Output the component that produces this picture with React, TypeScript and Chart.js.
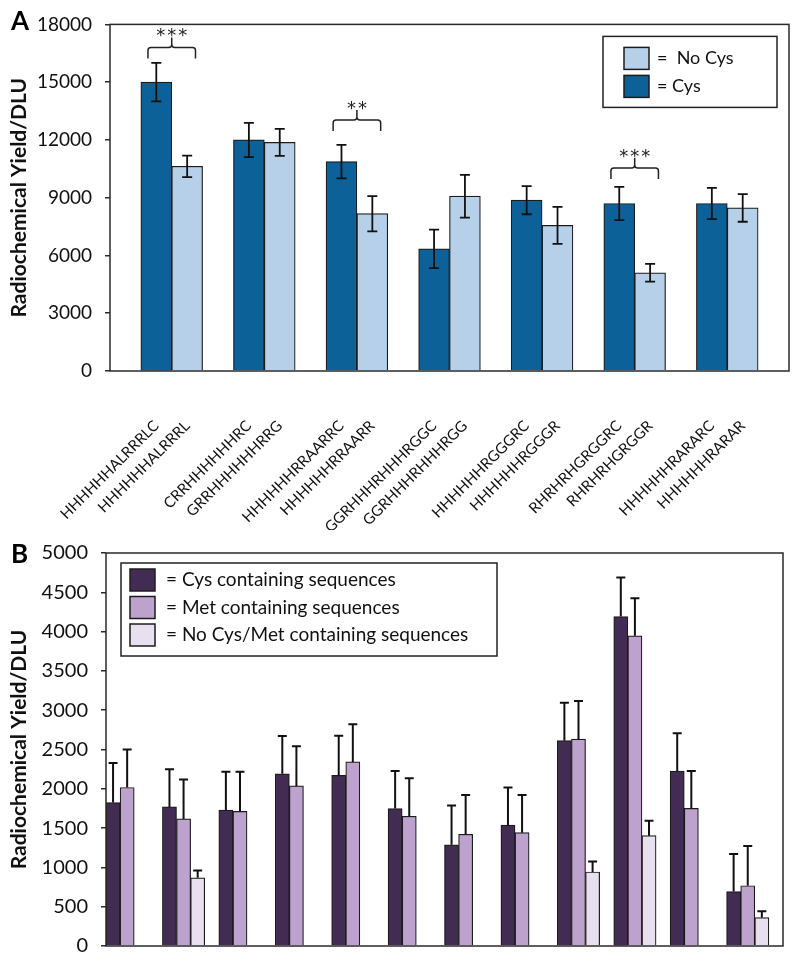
import React, { useEffect, useRef } from 'react';
import { Chart, registerables } from 'chart.js';

Chart.register(...registerables);

const FONT = 'Lato, "Open Sans", "DejaVu Sans", sans-serif';

// ---------- Panel A data ----------
const cysLabelsA = ['HHHHHHALRRRLC', 'CRRHHHHHHRC', 'HHHHHHRRAARRC', 'GGRHHHRHHHRGGC', 'HHHHHHRGGGRC', 'RHRHRHGRGGRC', 'HHHHHHRARARC'];
const noCysLabelsA = ['HHHHHHALRRRL', 'GRRHHHHHHRRG', 'HHHHHHRRAARR', 'GGRHHHRHHHRGG', 'HHHHHHRGGGR', 'RHRHRHGRGGR', 'HHHHHHRARAR'];
const cysValuesA = [15000, 12000, 10870, 6340, 8870, 8700, 8700];
const cysErrorsA = [1000, 890, 870, 1000, 730, 860, 815];
const noCysValuesA = [10630, 11870, 8170, 9080, 7560, 5100, 8470];
const noCysErrorsA = [560, 700, 915, 1110, 960, 460, 720];
const sigPairsA = [0, 2, 5];
const sigMarksA = ['***', '**', '***'];
const sigLevelsA = [16230, 12460, 9970];
const yMaxA = 18000;
const yStepA = 3000;

// ---------- Panel B data ----------
const cysValuesB = [1825, 1770, 1730, 2190, 2170, 1748, 1288, 1537, 2612, 4192, 2225, 692];
const cysErrorsB = [504, 480, 488, 483, 504, 478, 500, 480, 484, 496, 483, 479];
const metValuesB = [2017, 1617, 1712, 2037, 2342, 1650, 1421, 1442, 2633, 3946, 1750, 767];
const metErrorsB = [483, 500, 505, 505, 479, 483, 500, 479, 484, 479, 475, 504];
const noneValuesB = [null, 867, null, null, null, null, null, null, 942, 1404, null, 362];
const noneErrorsB = [null, 95, null, null, null, null, null, null, 133, 188, null, 80];
const yMaxB = 5000;
const yStepB = 500;

const C_CYS_A = '#0b6198';
const C_NOCYS_A = '#b5d0e8';
const C_CYS_B = '#432c53';
const C_MET_B = '#bca2cc';
const C_NONE_B = '#e8e0ee';
const EDGE = '#1c1c1c';

// Build slot tables (gap, Cys, NoCys, gap, ...)
const slotLabelsA: string[] = [''];
const slotValuesA: (number | null)[] = [null];
const slotErrorsA: (number | null)[] = [null];
const slotColorsA: string[] = ['#fff'];
cysValuesA.forEach((v, i) => {
  slotLabelsA.push(cysLabelsA[i], noCysLabelsA[i], '');
  slotValuesA.push(v, noCysValuesA[i], null);
  slotErrorsA.push(cysErrorsA[i], noCysErrorsA[i], null);
  slotColorsA.push(C_CYS_A, C_NOCYS_A, '#fff');
});

const slotLabelsB: string[] = [];
const slotValuesB: (number | null)[] = [];
const slotErrorsB: (number | null)[] = [];
const slotColorsB: string[] = [];
cysValuesB.forEach((v, i) => {
  slotLabelsB.push('', '', '', '');
  slotValuesB.push(v, metValuesB[i], noneValuesB[i], null);
  slotErrorsB.push(cysErrorsB[i], metErrorsB[i], noneErrorsB[i], null);
  slotColorsB.push(C_CYS_B, C_MET_B, C_NONE_B, '#fff');
});

// ---------- Plugins ----------
const framePlugin = {
  id: 'frame',
  afterDatasetsDraw(chart: any) {
    const { ctx, chartArea: a } = chart;
    ctx.save();
    ctx.strokeStyle = '#2a2a2a';
    ctx.lineWidth = 1.5;
    ctx.strokeRect(a.left, a.top, a.right - a.left, a.bottom - a.top);
    ctx.restore();
  },
};

const errorBarPlugin = {
  id: 'errorBars',
  afterDatasetsDraw(chart: any, _args: any, opts: any) {
    const { ctx } = chart;
    const meta = chart.getDatasetMeta(0);
    const ys = chart.scales.y;
    const data = chart.data.datasets[0].data;
    ctx.save();
    ctx.strokeStyle = '#111';
    ctx.lineWidth = opts.lineWidth || 1.8;
    meta.data.forEach((bar: any, i: number) => {
      const v = data[i];
      const e = opts.errors[i];
      if (v == null || e == null) return;
      const x = bar.x;
      const yt = ys.getPixelForValue(v + e);
      const yb = opts.twoSided ? ys.getPixelForValue(v - e) : ys.getPixelForValue(v);
      const hw = opts.capWidth / 2;
      ctx.beginPath();
      ctx.moveTo(x, yt);
      ctx.lineTo(x, yb);
      ctx.moveTo(x - hw, yt);
      ctx.lineTo(x + hw, yt);
      if (opts.twoSided) {
        ctx.moveTo(x - hw, yb);
        ctx.lineTo(x + hw, yb);
      }
      ctx.stroke();
    });
    ctx.restore();
  },
};

const bracketPlugin = {
  id: 'brackets',
  afterDatasetsDraw(chart: any, _args: any, opts: any) {
    if (!opts || !opts.pairs) return;
    const { ctx } = chart;
    const meta = chart.getDatasetMeta(0);
    const ys = chart.scales.y;
    ctx.save();
    ctx.strokeStyle = '#222';
    ctx.lineWidth = 1.5;
    ctx.fillStyle = '#222';
    opts.pairs.forEach((p: number, k: number) => {
      const b1 = meta.data[1 + 3 * p];
      const b2 = meta.data[2 + 3 * p];
      const w = b1.width;
      const xl = b1.x - w * 0.27;
      const xr = b2.x + w * 0.27;
      const xm = (xl + xr) / 2;
      const yb = ys.getPixelForValue(opts.levels[k]);
      const yh = yb - 11;
      const yn = yh - 10;
      const r = 3;
      ctx.beginPath();
      ctx.moveTo(xl, yb);
      ctx.lineTo(xl, yh + r);
      ctx.quadraticCurveTo(xl, yh, xl + r, yh);
      ctx.lineTo(xm - r, yh);
      ctx.quadraticCurveTo(xm, yh, xm, yh - r);
      ctx.lineTo(xm, yn);
      ctx.moveTo(xm, yh - r);
      ctx.quadraticCurveTo(xm, yh, xm + r, yh);
      ctx.lineTo(xr - r, yh);
      ctx.quadraticCurveTo(xr, yh, xr, yh + r);
      ctx.lineTo(xr, yb);
      ctx.stroke();
      const marks: string = opts.marks[k];
      const n = marks.length;
      ctx.font = `18px "DejaVu Sans", sans-serif`;
      ctx.textAlign = 'center';
      ctx.textBaseline = 'alphabetic';
      for (let j = 0; j < n; j++) {
        ctx.fillText(marks[j], xm + (j - (n - 1) / 2) * 11, yn - 6 + 10);
      }
    });
    ctx.restore();
  },
};

const boxLegendPlugin = {
  id: 'boxLegend',
  afterDraw(chart: any, _args: any, opts: any) {
    if (!opts || !opts.items) return;
    const { ctx, chartArea: a } = chart;
    const left = opts.fromRight ? a.right - opts.dx - opts.width : a.left + opts.dx;
    const top = a.top + opts.dy;
    ctx.save();
    ctx.fillStyle = '#fff';
    ctx.fillRect(left, top, opts.width, opts.height);
    ctx.strokeStyle = '#222';
    ctx.lineWidth = 1.5;
    ctx.strokeRect(left, top, opts.width, opts.height);
    opts.items.forEach((it: any, i: number) => {
      const sy = top + opts.firstTop + i * opts.rowGap;
      ctx.fillStyle = it.color;
      ctx.fillRect(left + opts.swatchX, sy, 25, 22);
      ctx.strokeStyle = EDGE;
      ctx.lineWidth = 1.5;
      ctx.strokeRect(left + opts.swatchX, sy, 25, 22);
      ctx.fillStyle = '#111';
      ctx.font = `${opts.fontSize}px ${FONT}`;
      ctx.textAlign = 'left';
      ctx.textBaseline = 'middle';
      ctx.fillText(it.label, left + opts.textX, sy + 11);
    });
    ctx.restore();
  },
};

const panelLetterPlugin = {
  id: 'panelLetter',
  afterDraw(chart: any, _args: any, opts: any) {
    if (!opts || !opts.text) return;
    const { ctx } = chart;
    ctx.save();
    ctx.fillStyle = '#000';
    ctx.font = `bold 26px ${FONT}`;
    ctx.textAlign = 'left';
    ctx.textBaseline = 'middle';
    ctx.fillText(opts.text, opts.x, opts.y);
    ctx.restore();
  },
};

function yAxis(max: number, step: number, width: number, tickSize: number) {
  return {
    min: 0,
    max,
    ticks: {
      stepSize: step,
      color: '#111',
      padding: 13,
      font: { size: tickSize, family: FONT },
      callback: (v: any) => String(v),
    },
    grid: { drawOnChartArea: false, drawTicks: true, tickLength: 5, color: '#2a2a2a', lineWidth: 1.5 },
    border: { display: false },
    title: {
      display: true,
      text: 'Radiochemical Yield/DLU',
      color: '#111',
      font: { size: 21, weight: 'bold', family: FONT },
      padding: { top: 7, bottom: 0 },
    },
    afterFit: (s: any) => {
      s.width = width;
    },
  };
}

export default function App() {
  const refA = useRef<HTMLCanvasElement>(null);
  const refB = useRef<HTMLCanvasElement>(null);

  useEffect(() => {
    Chart.defaults.font.family = FONT;
    const chartA = new Chart(refA.current as HTMLCanvasElement, {
      type: 'bar',
      data: {
        labels: slotLabelsA,
        datasets: [
          {
            data: slotValuesA,
            backgroundColor: slotColorsA,
            borderColor: EDGE,
            borderWidth: 1.2,
            barPercentage: 1,
            categoryPercentage: 1,
          },
        ],
      },
      options: {
        responsive: false,
        animation: false,
        layout: { padding: { top: 17, right: 11, left: 0, bottom: 0 } },
        plugins: {
          legend: { display: false },
          tooltip: { enabled: false },
          errorBars: { errors: slotErrorsA, twoSided: true, capWidth: 10, lineWidth: 1.8 },
          brackets: { pairs: sigPairsA, marks: sigMarksA, levels: sigLevelsA },
          boxLegend: {
            items: [
              { label: '=  No Cys', color: C_NOCYS_A },
              { label: '= Cys', color: C_CYS_A },
            ],
            fromRight: true,
            dx: 12,
            dy: 12,
            width: 174,
            height: 71,
            swatchX: 21,
            textX: 54,
            firstTop: 11,
            rowGap: 28,
            fontSize: 18,
          },
          panelLetter: { text: 'A', x: 11, y: 22 },
        } as any,
        scales: {
          x: {
            grid: { display: false, drawTicks: false },
            border: { display: false },
            ticks: {
              autoSkip: false,
              minRotation: 45,
              maxRotation: 45,
              padding: 46,
              color: '#111',
              font: { size: 15, family: FONT },
            },
            afterFit: (s: any) => {
              s.height = 159;
              s.paddingLeft = 0;
              s.paddingRight = 0;
            },
          },
          y: yAxis(yMaxA, yStepA, 110, 19) as any,
        },
      },
      plugins: [framePlugin, errorBarPlugin, bracketPlugin, boxLegendPlugin, panelLetterPlugin],
    });

    const chartB = new Chart(refB.current as HTMLCanvasElement, {
      type: 'bar',
      data: {
        labels: slotLabelsB,
        datasets: [
          {
            data: slotValuesB,
            backgroundColor: slotColorsB,
            borderColor: EDGE,
            borderWidth: 1.2,
            barPercentage: 1,
            categoryPercentage: 1,
          },
        ],
      },
      options: {
        responsive: false,
        animation: false,
        layout: { padding: { top: 58, right: 17, left: 0, bottom: 0 } },
        plugins: {
          legend: { display: false },
          tooltip: { enabled: false },
          errorBars: { errors: slotErrorsB, twoSided: false, capWidth: 9, lineWidth: 2 },
          boxLegend: {
            items: [
              { label: '= Cys containing sequences', color: C_CYS_B },
              { label: '= Met containing sequences', color: C_MET_B },
              { label: '= No Cys/Met containing sequences', color: C_NONE_B },
            ],
            fromRight: false,
            dx: 15,
            dy: 10,
            width: 376,
            height: 93,
            swatchX: 9,
            textX: 45,
            firstTop: 6,
            rowGap: 27.5,
            fontSize: 19,
          },
          panelLetter: { text: 'B', x: 11, y: 60 },
        } as any,
        scales: {
          x: {
            grid: { display: false, drawTicks: false },
            border: { display: false },
            ticks: { display: false },
            afterFit: (s: any) => {
              s.height = 18;
              s.paddingLeft = 0;
              s.paddingRight = 0;
            },
          },
          y: yAxis(yMaxB, yStepB, 106, 20) as any,
        },
      },
      plugins: [framePlugin, errorBarPlugin, boxLegendPlugin, panelLetterPlugin],
    });

    return () => {
      chartA.destroy();
      chartB.destroy();
    };
  }, []);

  return (
    <div style={{ position: 'absolute', left: 0, top: 0, width: 800, height: 971, background: '#fff' }}>
      <canvas ref={refA} width={800} height={530} style={{ position: 'absolute', left: 0, top: 0, display: 'block' }} />
      <canvas ref={refB} width={800} height={476} style={{ position: 'absolute', left: 0, top: 495, display: 'block' }} />
    </div>
  );
}
